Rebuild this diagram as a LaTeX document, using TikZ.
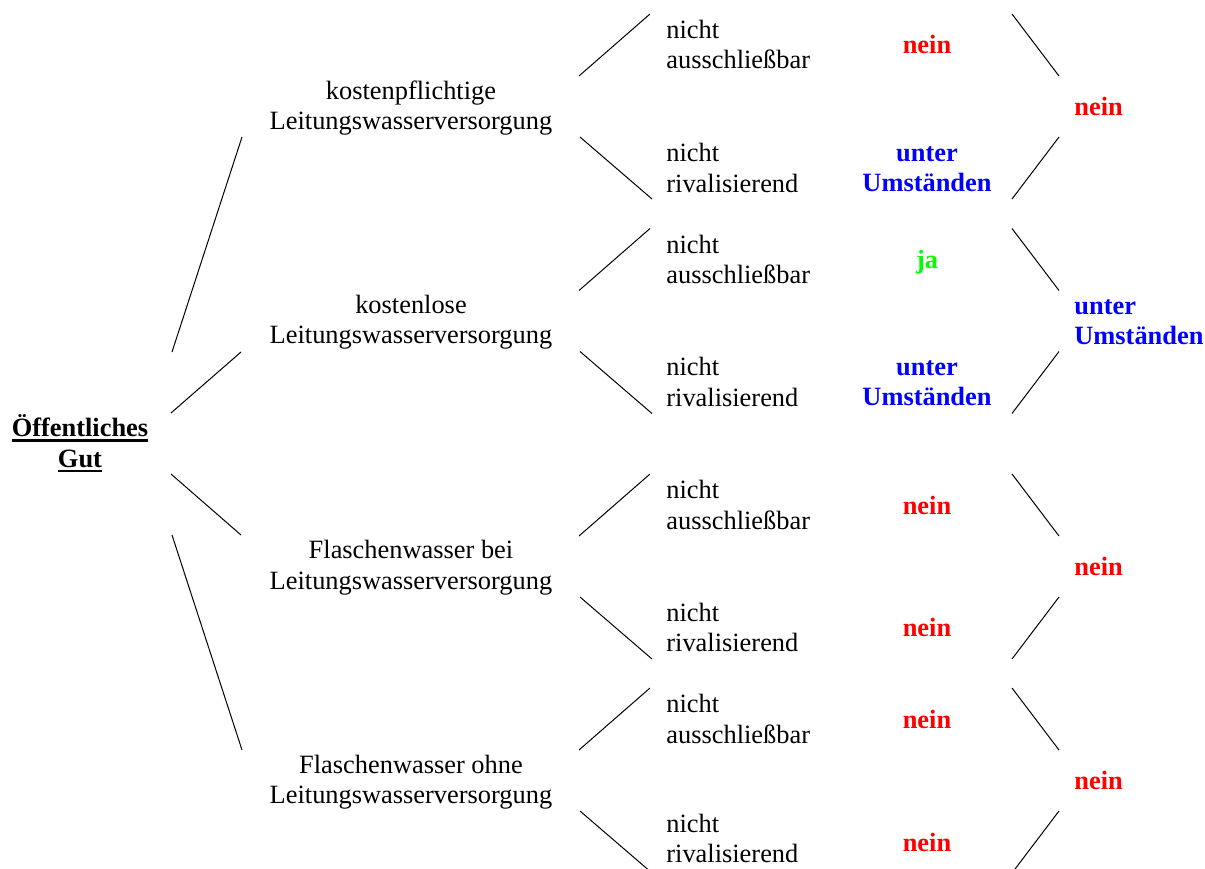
\documentclass[tikz,border=0pt]{standalone}
\usepackage{fontspec}
\setmainfont{Liberation Serif}
\usepackage{tikz}

\newcommand{\strich}[1]{\setbox0\hbox{#1}\rlap{\rule[-2.4pt]{\wd0}{1.1pt}}\box0}

\begin{document}
\begin{tikzpicture}[x=0.5pt,y=-0.5pt,
		txt/.style={font=\fontsize{13.2}{15.25}\selectfont,inner sep=0pt},
		gut/.style={txt,align=center},
		merk/.style={txt,anchor=west,align=left},
		wert/.style={txt,font=\fontsize{13.2}{15.25}\selectfont\bfseries,align=center},
		ende/.style={wert,anchor=west,align=left},
		ast/.style={line width=0.5pt}]
				\useasboundingbox (0,0) rectangle (1205,868);
				
				\node[wert] (og) at (80,443.5) {\strich{Öffentliches}\\\strich{Gut}};
				
				\node[gut] (kp) at (411,108) {kostenpflichtige\\Leitungswasserversorgung};
				\node[gut] (kl) at (411,322) {kostenlose\\Leitungswasserversorgung};
				\node[gut] (fb) at (411,567.5) {Flaschenwasser bei\\Leitungswasserversorgung};
				\node[gut] (fo) at (411,782) {Flaschenwasser ohne\\Leitungswasserversorgung};
				
				\node[merk] (na1) at (666,44.7) {nicht\\ausschließbar};
				\node[merk] (nr1) at (666,168) {nicht\\rivalisierend};
				\node[merk] (na2) at (666,259.7) {nicht\\ausschließbar};
				\node[merk] (nr2) at (666,382) {nicht\\rivalisierend};
				\node[merk] (na3) at (666,505.2) {nicht\\ausschließbar};
				\node[merk] (nr3) at (666,627.3) {nicht\\rivalisierend};
				\node[merk] (na4) at (666,719) {nicht\\ausschließbar};
				\node[merk] (nr4) at (666,838.5) {nicht\\rivalisierend};
				
				\node[wert,red] (w1) at (927,44.9) {nein};
				\node[wert,blue] (w2) at (927,169.3) {unter\\Umständen};
				\node[wert,green] (w3) at (927,261.7) {ja};
				\node[wert,blue] (w4) at (927,383) {unter\\Umständen};
				\node[wert,red] (w5) at (927,505.9) {nein};
				\node[wert,red] (w6) at (927,627.6) {nein};
				\node[wert,red] (w7) at (927,719.2) {nein};
				\node[wert,red] (w8) at (927,842.6) {nein};
				
				\node[ende,red] (e1) at (1074,106.9) {nein};
				\node[ende,blue] (e2) at (1074,322.4) {unter\\Umständen};
				\node[ende,red] (e3) at (1074,566.6) {nein};
				\node[ende,red] (e4) at (1074,780.2) {nein};
				
				\coordinate (r1a) at (172,352);   \coordinate (r1b) at (242,137);
				\coordinate (r2a) at (171,413);   \coordinate (r2b) at (241,352);
				\coordinate (r3a) at (171,474);   \coordinate (r3b) at (241,535);
				\coordinate (r4a) at (172,535);   \coordinate (r4b) at (242,750);
				
				\coordinate (l1a) at (579,76);    \coordinate (l1b) at (650,14);
				\coordinate (l1c) at (580,137);   \coordinate (l1d) at (652,199);
				\coordinate (l2a) at (579,290.5); \coordinate (l2b) at (650,228.5);
				\coordinate (l2c) at (580,351.5); \coordinate (l2d) at (652,413.5);
				\coordinate (l3a) at (579,536);   \coordinate (l3b) at (650,474);
				\coordinate (l3c) at (580,597);   \coordinate (l3d) at (652,659);
				\coordinate (l4a) at (579,750);   \coordinate (l4b) at (650,688);
				\coordinate (l4c) at (580,811);   \coordinate (l4d) at (652,873);
				
				\coordinate (q1a) at (1012,14);    \coordinate (q1b) at (1059,76);
				\coordinate (q1c) at (1059,137);   \coordinate (q1d) at (1012,199);
				\coordinate (q2a) at (1012,228.5); \coordinate (q2b) at (1059,290.5);
				\coordinate (q2c) at (1059,351.5); \coordinate (q2d) at (1012,413.5);
				\coordinate (q3a) at (1012,474);   \coordinate (q3b) at (1059,536);
				\coordinate (q3c) at (1059,597);   \coordinate (q3d) at (1012,659);
				\coordinate (q4a) at (1012,688);   \coordinate (q4b) at (1059,750);
				\coordinate (q4c) at (1059,811);   \coordinate (q4d) at (1012,873);
				
				\draw[ast] (r1a) -- (r1b);
				\draw[ast] (r2a) -- (r2b);
				\draw[ast] (r3a) -- (r3b);
				\draw[ast] (r4a) -- (r4b);
				
				\draw[ast] (l1a) -- (l1b);
				\draw[ast] (l1c) -- (l1d);
				\draw[ast] (l2a) -- (l2b);
				\draw[ast] (l2c) -- (l2d);
				\draw[ast] (l3a) -- (l3b);
				\draw[ast] (l3c) -- (l3d);
				\draw[ast] (l4a) -- (l4b);
				\draw[ast] (l4c) -- (l4d);
				
				\draw[ast] (q1a) -- (q1b);
				\draw[ast] (q1c) -- (q1d);
				\draw[ast] (q2a) -- (q2b);
				\draw[ast] (q2c) -- (q2d);
				\draw[ast] (q3a) -- (q3b);
				\draw[ast] (q3c) -- (q3d);
				\draw[ast] (q4a) -- (q4b);
				\draw[ast] (q4c) -- (q4d);
			\end{tikzpicture}
\end{document}
